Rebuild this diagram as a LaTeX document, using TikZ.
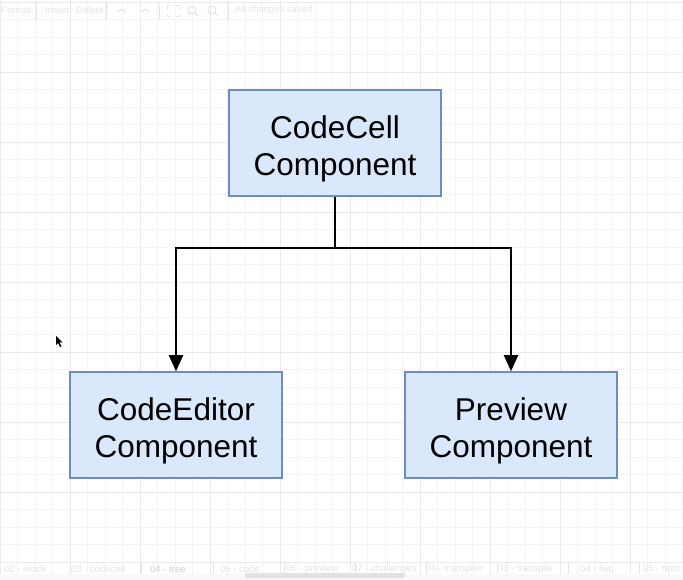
\documentclass[tikz,border=0pt]{standalone}
\usepackage{fontspec}
\setmainfont{Liberation Sans}
\usetikzlibrary{arrows.meta}
\definecolor{boxfill}{HTML}{DAE8FC}
\definecolor{boxline}{HTML}{6C8EBF}
\definecolor{gridminor}{HTML}{F4F4F4}
\definecolor{gridmajor}{HTML}{EAEAEA}
\definecolor{uitext}{HTML}{E4E4E4}
\definecolor{uiactive}{HTML}{CFCFCF}
\definecolor{tabbg}{HTML}{F8FAFA}
\tikzset{
  compbox/.style={draw=boxline, fill=boxfill, line width=1.6pt,
    minimum width=212pt, minimum height=106pt, inner sep=0pt},
  comptext/.style={align=center, font=\fontsize{31.5}{36.5}\selectfont, text=black, inner sep=0pt},
  wire/.style={draw=black, line width=2pt},
  arrowwire/.style={wire, -{Triangle[length=16pt,width=14pt]}},
  uilabel/.style={font=\fontsize{9.5}{11}\selectfont, text=uitext, anchor=west, inner sep=0pt},
  tablabel/.style={uilabel},
}
\begin{document}
\begin{tikzpicture}[x=1pt,y=-1pt]
\useasboundingbox (0,0) rectangle (683,580);
\fill[white] (0,0) rectangle (683,580);
% grid
\foreach \i in {0,...,39} {
  \draw[gridminor, line width=0.6pt] ({\i*17.5},0) -- ({\i*17.5},580);
}
\foreach \j in {0,...,33} {
  \draw[gridminor, line width=0.6pt] (0,{2+\j*17.5}) -- (683,{2+\j*17.5});
}
\foreach \i in {0,...,9} {
  \draw[gridmajor, line width=0.9pt] ({\i*70},0) -- ({\i*70},580);
}
\foreach \j in {0,...,8} {
  \draw[gridmajor, line width=0.9pt] (0,{2+\j*70}) -- (683,{2+\j*70});
}
% top toolbar
\node[uilabel] (tFormat) at (1,10) {Format};
\node[uilabel] (tInsert) at (45,10) {Insert};
\node[uilabel] (tDelete) at (76,10) {Delete};
\node[uilabel] (tSaved) at (235,10) {All changes saved};
\draw[uitext, line width=0.6pt] (36,2) -- (36,20) (70,2) -- (70,20) (106,2) -- (106,20) (159,2) -- (159,20) (228,2) -- (228,20);
\draw[uitext, line width=1.2pt] (118,12) arc (200:340:4);
\draw[uitext, line width=1.2pt] (142,12) arc (200:340:4);
\draw[uitext, line width=1pt] (167,6) -- (167,9) (167,6) -- (170,6) (179,6) -- (176,6) (179,6) -- (179,9)
  (167,17) -- (167,14) (167,17) -- (170,17) (179,17) -- (176,17) (179,17) -- (179,14);
\draw[uitext, line width=1pt] (192,10) circle (4) (195,13) -- (198,16);
\draw[uitext, line width=1pt] (212,10) circle (4) (215,13) -- (218,16);
% bottom tab bar
\fill[tabbg] (0,574) rectangle (683,580);
\foreach \s in {70,141,213,284,355,426,497,568,639} {
  \draw[uitext, line width=0.6pt] (\s,562) -- (\s,574);
}
\node[tablabel] (tab1) at (4,569) {02 - mock};
\node[tablabel] (tab2) at (71,569) {03 - codecell};
\node[tablabel, text=uiactive] (tab3) at (150,569) {04 - tree};
\node[tablabel] (tab4) at (220,569) {05 - code};
\node[tablabel] (tab5) at (286,569) {06 - preview};
\node[tablabel] (tab6) at (352,569) {07 - challenges};
\node[tablabel] (tab7) at (425,569) {04 - transpiler};
\node[tablabel] (tab8) at (498,569) {03 - transpile};
\node[tablabel] (tab9) at (580,569) {04 - two};
\node[tablabel] (tab10) at (643,569) {05 - npm};
\fill[uiactive!60, rounded corners=2pt] (245,573) rectangle (405,578);
% cursor
\fill[black] (56,336) -- (56,345) -- (58,343) -- (60,347) -- (61.5,346.3) -- (59.6,342.5) -- (62.5,342.3) -- cycle;
% boxes
\node[compbox] (cell) at (335,143) {};
\node[compbox] (editor) at (176,425) {};
\node[compbox] (preview) at (511,425) {};
\node[comptext] (cellText) at ([yshift=-6pt]cell.center) {CodeCell\\Component};
\node[comptext] (editorText) at ([yshift=-6pt]editor.center) {CodeEditor\\Component};
\node[comptext] (previewText) at ([yshift=-6pt]preview.center) {Preview\\Component};
% connectors
\coordinate (junction) at (335,248);
\draw[wire] (cell.south) -- (junction);
\draw[arrowwire] (junction) -| (editor.north);
\draw[arrowwire] (junction) -| (preview.north);
\end{tikzpicture}
\end{document}
